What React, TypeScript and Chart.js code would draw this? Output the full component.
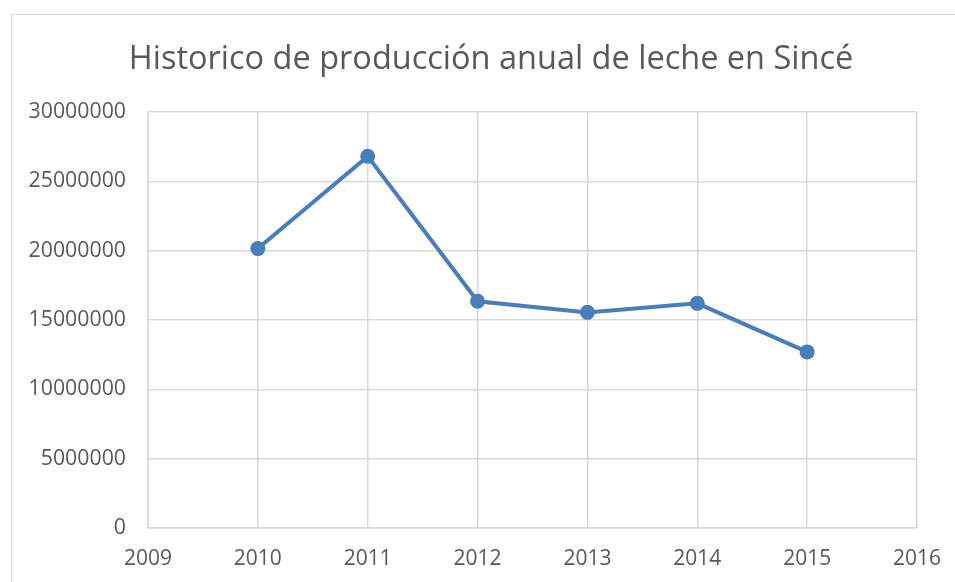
import React, { useEffect, useRef } from "react";
import { Chart, registerables } from "chart.js";

Chart.register(...registerables);

const titleText = "Historico de producción anual de leche en Sincé";
const years = [2010, 2011, 2012, 2013, 2014, 2015];
const production = [20150000, 26800000, 16350000, 15550000, 16200000, 12700000];
const xMin = 2009;
const xMax = 2016;
const yMin = 0;
const yMax = 30000000;
const yStep = 5000000;

const FONT = "'Open Sans', sans-serif";
const TEXT = "#595959";
const GRID = "#d9d9d9";
const LINE = "#4a7ebb";

const centeredTitle = {
  id: "centeredTitle",
  afterDraw(chart: any) {
    const ctx = chart.ctx;
    ctx.save();
    ctx.font = `normal 32.5px ${FONT}`;
    ctx.fillStyle = TEXT;
    ctx.textAlign = "center";
    ctx.textBaseline = "middle";
    ctx.fillText(titleText, 491, 60);
    ctx.restore();
  },
};

export default function App() {
  const ref = useRef<HTMLCanvasElement | null>(null);
  useEffect(() => {
    if (!ref.current) return;
    const chart = new Chart(ref.current, {
      type: "line",
      data: {
        datasets: [
          {
            data: years.map((y, i) => ({ x: y, y: production[i] })),
            borderColor: LINE,
            backgroundColor: LINE,
            borderWidth: 4,
            pointRadius: 7.5,
            pointBorderWidth: 0,
            pointBackgroundColor: LINE,
            tension: 0,
          },
        ],
      },
      plugins: [centeredTitle],
      options: {
        animation: false,
        responsive: false,
        maintainAspectRatio: false,
        layout: { padding: { left: 0, right: 38, top: 112, bottom: 0 } },
        plugins: {
          legend: { display: false },
          tooltip: { enabled: false },
          title: { display: false },
        },
        scales: {
          x: {
            type: "linear",
            min: xMin,
            max: xMax,
            ticks: {
              stepSize: 1,
              color: TEXT,
              font: { family: FONT, size: 21 },
              padding: 18,
              maxRotation: 0,
              callback: (v: any) => String(v),
            },
            grid: { color: GRID, lineWidth: 1.5, drawTicks: false },
            border: { color: GRID, width: 1.5 },
            afterFit: (s: any) => {
              s.height = 54;
              s.paddingLeft = 0;
              s.paddingRight = 0;
            },
          },
          y: {
            type: "linear",
            min: yMin,
            max: yMax,
            ticks: {
              stepSize: yStep,
              color: TEXT,
              font: { family: FONT, size: 21.3 },
              padding: 22,
              callback: (v: any) => String(v),
            },
            grid: { color: GRID, lineWidth: 1.5, drawTicks: false },
            border: { color: GRID, width: 1.5 },
            afterFit: (s: any) => {
              s.width = 148;
              s.paddingTop = 0;
              s.paddingBottom = 0;
            },
          },
        },
      },
    });
    return () => chart.destroy();
  }, []);

  return (
    <div
      style={{
        position: "fixed",
        left: 0,
        top: 0,
        width: 955,
        height: 582,
        overflow: "hidden",
        background: "#fff",
      }}
    >
      <div
        style={{
          position: "absolute",
          left: 11,
          top: 14,
          width: 1000,
          height: 1000,
          border: "1px solid #d9d9d9",
        }}
      />
      <div style={{ position: "absolute", left: 0, top: 0, width: 955, height: 582 }}>
        <canvas ref={ref} width={955} height={582} style={{ width: 955, height: 582 }} />
      </div>
    </div>
  );
}
